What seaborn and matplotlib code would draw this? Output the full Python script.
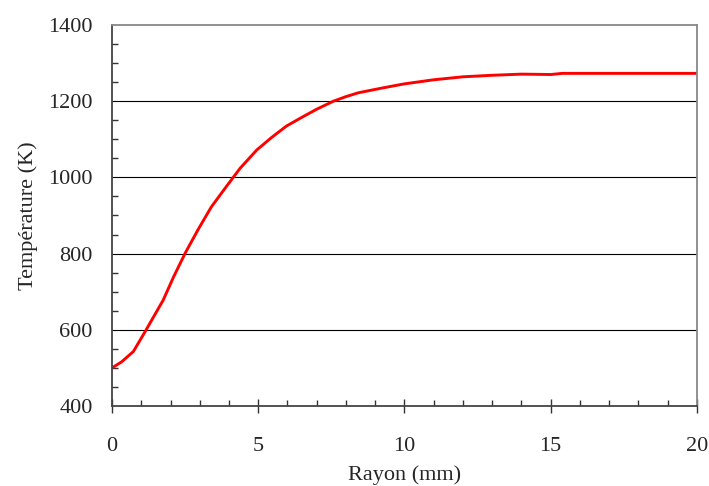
import numpy as np
import pandas as pd
import matplotlib.pyplot as plt
import seaborn as sns
from matplotlib.ticker import MultipleLocator

# radius (mm) and temperature (K)
rayon = [0, 0.33, 0.73, 1.13, 1.75, 2.1, 2.5, 2.95, 3.4, 3.9, 4.38, 4.95, 5.46, 5.97,
         6.5, 7.0, 7.57, 8.0, 8.42, 9.2, 9.96, 10.98, 12.0, 13.0, 14.0, 15.0, 15.4,
         16.0, 17.0, 18.0, 19.0, 20.0]
temp = [500, 516, 543, 595, 678, 738, 801, 864, 923, 975, 1024, 1072, 1105, 1135,
        1158, 1179, 1200, 1212, 1222, 1234, 1245, 1256, 1264, 1268, 1271, 1270, 1273,
        1273, 1273, 1273, 1273, 1273]

sns.set_style("white")
plt.rcParams['font.family'] = ['Liberation Serif', 'DejaVu Serif']

df = pd.DataFrame({'rayon': rayon, 'temp': temp})

fig = plt.figure(figsize=(7.09, 4.86), dpi=100)
ax = fig.add_axes([0.158, 0.1646, 0.825, 0.784])
for y in [600, 800, 1000, 1200]:
    ax.axhline(y, color='black', lw=0.8, zorder=0)

sns.lineplot(data=df, x='rayon', y='temp', color='red', lw=2.1, ax=ax)

ax.set_xlim(0, 20)
ax.set_ylim(400, 1400)
ax.xaxis.set_major_locator(MultipleLocator(5))
ax.xaxis.set_minor_locator(MultipleLocator(1))
ax.yaxis.set_major_locator(MultipleLocator(200))
ax.yaxis.set_minor_locator(MultipleLocator(50))

ax.tick_params(axis='y', which='major', direction='out', length=5, width=1, labelsize=16, pad=9, color='#333333')
ax.tick_params(axis='y', which='minor', direction='in', length=4, width=1, left=True, color='#333333')
ax.tick_params(axis='x', which='major', direction='inout', length=10, width=1, labelsize=16, pad=17, bottom=True, color='#333333')
ax.tick_params(axis='x', which='minor', direction='in', length=4.5, width=1, bottom=True, color='#333333')

for s in ['left', 'bottom']:
    ax.spines[s].set_color('#444444')
    ax.spines[s].set_linewidth(1.3)
for s in ['top', 'right']:
    ax.spines[s].set_color('#888888')
    ax.spines[s].set_linewidth(1.3)

ax.set_xlabel('Rayon (mm)', fontsize=16, labelpad=7)
ax.set_ylabel('Température (K)', fontsize=16, labelpad=7)

plt.savefig('out.png', dpi=100)
